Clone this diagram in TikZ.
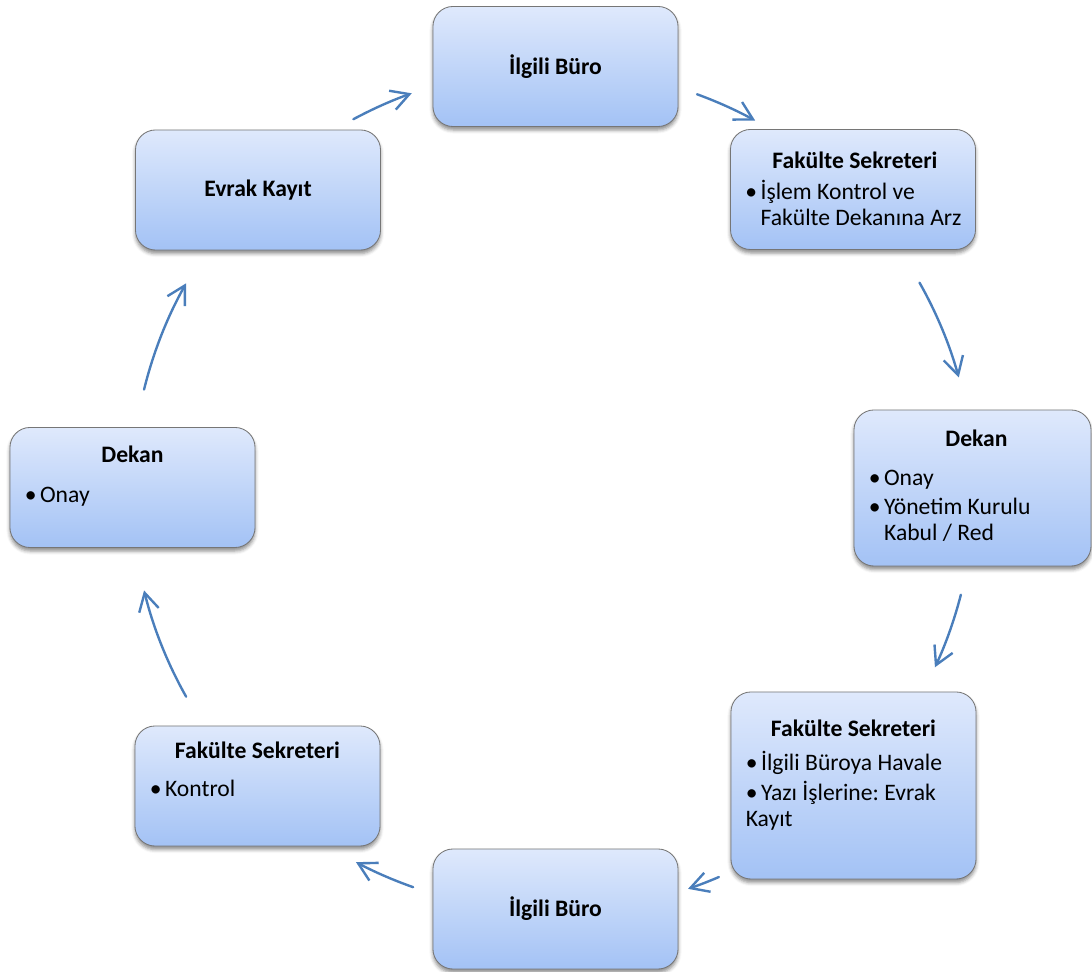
\documentclass[tikz,border=0pt]{standalone}
\usepackage{fontspec}
\setmainfont{Carlito}
\usepackage{tikz}
\usetikzlibrary{arrows.meta,positioning,calc,shadows.blur}
\definecolor{cardtop}{RGB}{223,233,252}
\definecolor{cardbottom}{RGB}{163,194,245}
\definecolor{cardline}{RGB}{118,118,118}
\definecolor{cycleblue}{RGB}{74,126,187}
\frenchspacing
\newcommand{\maddeler}[1]{\begin{tabular}[t]{@{}l@{\hspace{2.5pt}}l@{}}#1\end{tabular}}
\tikzset{
  stepcard/.style={draw=cardline,line width=0.6pt,top color=cardtop,bottom color=cardbottom,
    rounded corners=0.5cm,minimum width=6.125cm,minimum height=3cm,inner sep=0pt,
    blur shadow={shadow xshift=0pt,shadow yshift=-2.5pt,shadow blur radius=2.5pt,shadow opacity=45},
    font=\bfseries\fontsize{16.8}{20}\selectfont},
  cardtitle/.style={anchor=base,inner sep=0pt,font=\bfseries\fontsize{16.8}{20}\selectfont},
  cardlist/.style={anchor=base west,inner sep=0pt,font=\fontsize{16.8}{18.8}\selectfont},
  cyclearrow/.style={-{Straight Barb[length=4.5mm,width=5mm]},draw=cycleblue,line width=1.7pt,line cap=round}
}
\begin{document}
\begin{tikzpicture}[x=0.025cm,y=0.025cm]
  \useasboundingbox (0,0) rectangle (1092,972);
  % kutular
  \node[stepcard] (buroUst) at (555.5,905.5) {İlgili Büro};
  \node[stepcard] (sekreter1) at (853,782.5) {};
  \node[cardtitle] (sekreter1Title) at ($(sekreter1.north)+(2,-39)$) {Fakülte Sekreteri};
  \node[cardlist] (sekreter1List) at ($(sekreter1.north west)+(15,-70.5)$)
    {\maddeler{• & İşlem Kontrol ve\\ & Fakülte Dekanına Arz}};
  \node[stepcard,minimum width=5.925cm,minimum height=3.9cm] (dekan1) at (972.5,484) {};
  \node[cardtitle] (dekan1Title) at ($(dekan1.north)+(4,-36.5)$) {Dekan};
  \node[cardlist] (dekan1List) at ($(dekan1.north west)+(15,-75.5)$)
    {\maddeler{• & Onay\\[2pt] • & Yönetim Kurulu\\ & Kabul / Red}};
  \node[stepcard,minimum height=4.675cm] (sekreter2) at (853.5,186.5) {};
  \node[cardtitle] (sekreter2Title) at ($(sekreter2.north)+(0,-44.5)$) {Fakülte Sekreteri};
  \node[cardlist] (sekreter2List) at ($(sekreter2.north west)+(15,-78.5)$)
    {\maddeler{• & İlgili Büroya Havale\\[2pt] • & Yazı İşlerine: Evrak\\ \multicolumn{2}{@{}l@{}}{Kayıt}}};
  \node[stepcard] (buroAlt) at (555.5,63) {İlgili Büro};
  \node[stepcard] (sekreter3) at (257.5,186) {};
  \node[cardtitle] (sekreter3Title) at ($(sekreter3.north)+(0,-33)$) {Fakülte Sekreteri};
  \node[cardlist] (sekreter3List) at ($(sekreter3.north west)+(15,-70.5)$) {\maddeler{• & Kontrol}};
  \node[stepcard] (dekan2) at (132.5,484.5) {};
  \node[cardtitle] (dekan2Title) at ($(dekan2.north)+(0,-35)$) {Dekan};
  \node[cardlist] (dekan2List) at ($(dekan2.north west)+(15,-75)$) {\maddeler{• & Onay}};
  \node[stepcard] (evrak) at (258,782) {Evrak Kayıt};
  % oklar
  \coordinate (hub) at (553,482);
  \foreach \from/\to in {118.3/109.6,70/61.3,29.5/15.5,-14.4/-24.9,-66.8/-71.3,-109.4/-117.9,-150.6/-166.2,166.2/150.6}
    \draw[cyclearrow] ([shift={(\from:10.525cm)}]hub) arc[start angle=\from,end angle=\to,radius=10.525cm];
\end{tikzpicture}
\end{document}
